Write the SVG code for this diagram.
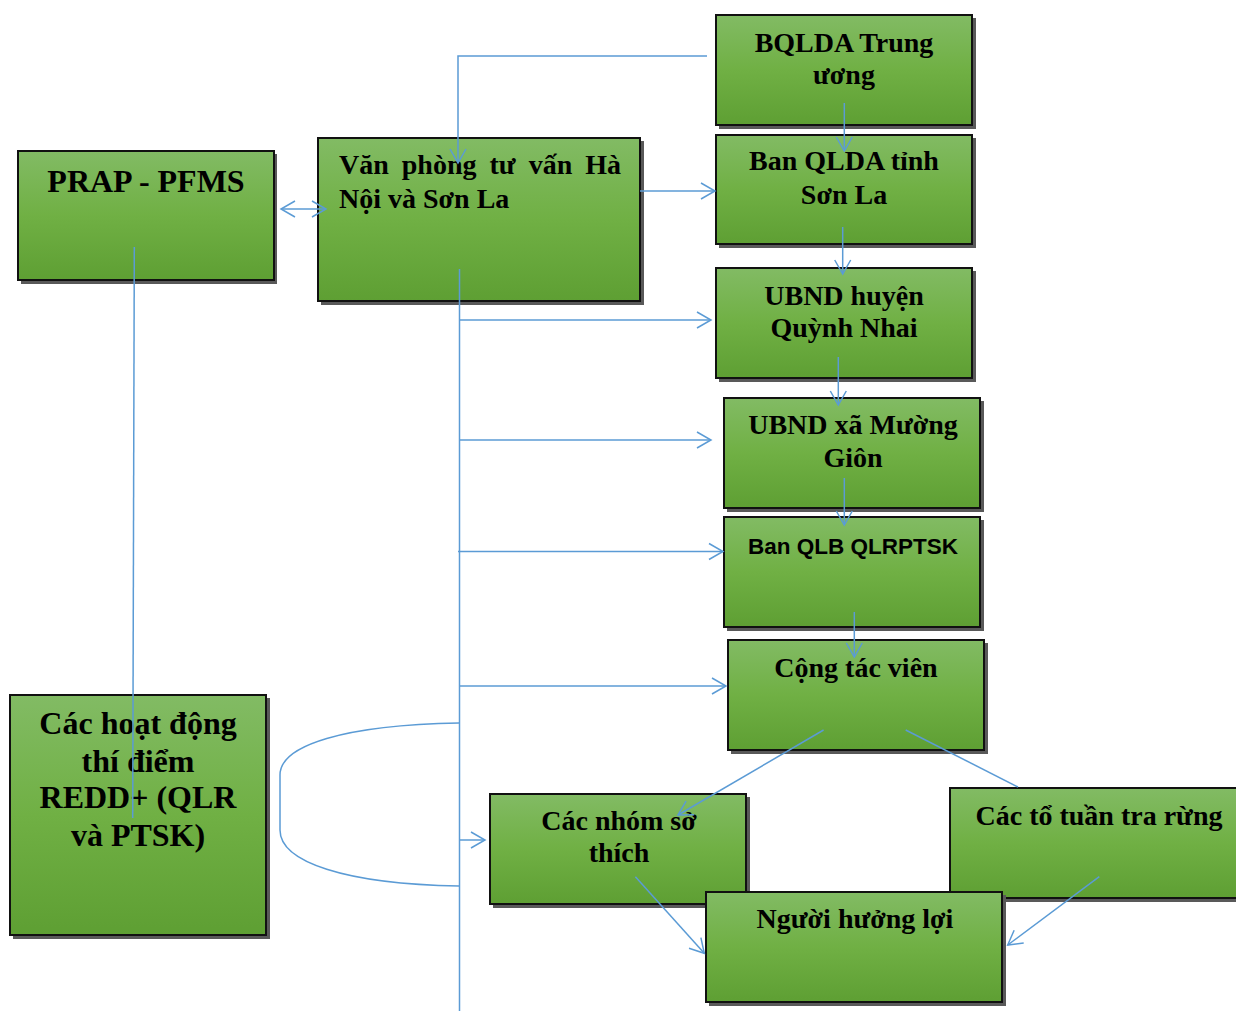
<svg xmlns="http://www.w3.org/2000/svg" width="1236" height="1011" viewBox="0 0 1236 1011">
<defs>
<linearGradient id="g" x1="0" y1="0" x2="0" y2="1">
<stop offset="0" stop-color="#82bb64"/>
<stop offset="0.5" stop-color="#70b044"/>
<stop offset="1" stop-color="#5e9f33"/>
</linearGradient>
<marker id="ah" viewBox="-16 -10 18 20" refX="0" refY="0" markerWidth="18" markerHeight="20" markerUnits="userSpaceOnUse" orient="auto-start-reverse">
<path d="M-14,-8 L0,0 L-14,8" fill="none" stroke="#5b9bd5" stroke-width="1.5"/>
</marker>
</defs>
<style>
.sh{fill:#595959}
.bx{fill:url(#g);stroke:#111;stroke-width:2}
.t{font-family:"Liberation Serif","Times New Roman",serif;font-weight:bold;font-size:28px;fill:#000;text-anchor:middle}
.tl{font-size:32px}
.ts{font-family:"Liberation Sans",Arial,sans-serif;font-size:22.5px}
.c{fill:none;stroke:#5b9bd5;stroke-width:1.5}
.a{marker-end:url(#ah)}
</style>
<rect width="1236" height="1011" fill="#fff"/>

<g id="n-prap">
<rect class="sh" x="21" y="154" width="256" height="130"/>
<rect class="bx" x="18" y="151" width="256" height="129"/>
<text class="t tl" x="146" y="192">PRAP - PFMS</text>
</g>
<g id="n-vanphong">
<rect class="sh" x="321" y="141" width="323" height="164"/>
<rect class="bx" x="318" y="138" width="322" height="163"/>
<text class="t" x="339" y="174" style="text-anchor:start" word-spacing="6">Văn phòng tư vấn Hà</text>
<text class="t" x="339" y="208" style="text-anchor:start">Nội và Sơn La</text>
</g>
<g id="n-bqlda">
<rect class="sh" x="719" y="18" width="257" height="111"/>
<rect class="bx" x="716" y="15" width="256" height="110"/>
<text class="t" x="844" y="52">BQLDA Trung</text>
<text class="t" x="844" y="84">ương</text>
</g>
<g id="n-banqlda">
<rect class="sh" x="719" y="138" width="257" height="110"/>
<rect class="bx" x="716" y="135" width="256" height="109"/>
<text class="t" x="844" y="170">Ban QLDA tỉnh</text>
<text class="t" x="844" y="204">Sơn La</text>
</g>
<g id="n-ubndhuyen">
<rect class="sh" x="719" y="271" width="257" height="111"/>
<rect class="bx" x="716" y="268" width="256" height="110"/>
<text class="t" x="844" y="305">UBND huyện</text>
<text class="t" x="844" y="337">Quỳnh Nhai</text>
</g>
<g id="n-ubndxa">
<rect class="sh" x="727" y="401" width="257" height="111"/>
<rect class="bx" x="724" y="398" width="256" height="110"/>
<text class="t" x="853" y="434">UBND xã Mường</text>
<text class="t" x="853" y="467">Giôn</text>
</g>
<g id="n-banqlb">
<rect class="sh" x="727" y="520" width="257" height="111"/>
<rect class="bx" x="724" y="517" width="256" height="110"/>
<text class="t ts" x="853" y="554">Ban QLB QLRPTSK</text>
</g>
<g id="n-ctv">
<rect class="sh" x="731" y="643" width="257" height="111"/>
<rect class="bx" x="728" y="640" width="256" height="110"/>
<text class="t" x="856" y="677">Cộng tác viên</text>
</g>
<g id="n-redd">
<rect class="sh" x="13" y="698" width="257" height="241"/>
<rect class="bx" x="10" y="695" width="256" height="240"/>
<text class="t tl" x="138" y="734">Các hoạt động</text>
<text class="t tl" x="138" y="772">thí điểm</text>
<text class="t tl" x="138" y="808">REDD+ (QLR</text>
<text class="t tl" x="138" y="846">và PTSK)</text>
</g>
<g id="n-nhom">
<rect class="sh" x="493" y="797" width="257" height="111"/>
<rect class="bx" x="490" y="794" width="256" height="110"/>
<text class="t" x="619" y="830">Các nhóm sở</text>
<text class="t" x="619" y="862">thích</text>
</g>
<g id="n-to">
<rect class="sh" x="953" y="791" width="290" height="111"/>
<rect class="bx" x="950" y="788" width="292" height="110"/>
<text class="t" x="1099" y="825">Các tổ tuần tra rừng</text>
</g>
<g id="n-nguoi">
<rect class="sh" x="709" y="895" width="297" height="111"/>
<rect class="bx" x="706" y="892" width="296" height="110"/>
<text class="t" x="855" y="928">Người hưởng lợi</text>
</g>

<g id="connectors">
<path class="c a" d="M707,56 H458 V163"/>
<path class="c a" d="M281,209 H326" marker-start="url(#ah)"/>
<path class="c a" d="M640,191 H715"/>
<path class="c a" d="M844.3,103 V151"/>
<path class="c a" d="M842.7,227 V274"/>
<path class="c a" d="M838.3,357 V405"/>
<path class="c a" d="M844.3,478 V525"/>
<path class="c a" d="M854.3,612 V657"/>
<path class="c" d="M459.5,269 V1011"/>
<path class="c a" d="M460,320 H711"/>
<path class="c a" d="M460,440 H711"/>
<path class="c a" d="M458,551.5 H723"/>
<path class="c a" d="M460,686 H726"/>
<path class="c" d="M459,723 C345,725 280,745 280,775 L280,830 C280,862 345,884 459,886"/>
<path class="c a" d="M460,840 H485"/>
<path class="c" d="M134.3,247 L132.7,818"/>
<path class="c a" d="M823.6,730 L678,815"/>
<path class="c" d="M905.7,730 L1018,787"/>
<path class="c a" d="M635.4,876.7 L704.3,953.3"/>
<path class="c a" d="M1099.3,876.7 L1007.7,945"/>
</g>
</svg>
